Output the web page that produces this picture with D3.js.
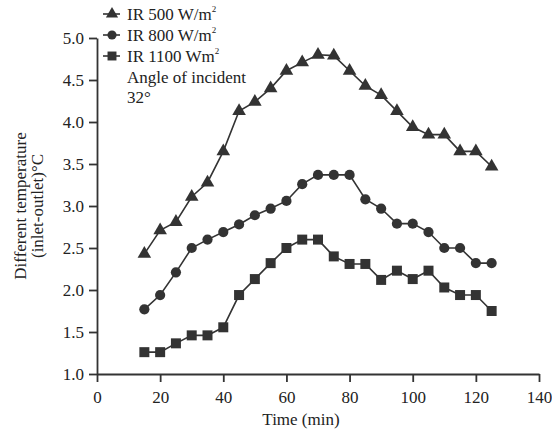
<!DOCTYPE html>
<html>
<head>
<meta charset="utf-8">
<script src="https://cdn.jsdelivr.net/npm/d3@7"></script>
<style>
  body { margin: 0; background: #fff; }
  text { font-family: "Liberation Serif", "DejaVu Serif", serif; fill: #222; }
</style>
</head>
<body>
<div id="chart"></div>
<script>
// time axis (min)
const times = [15, 20, 25, 30, 35, 40, 45, 50, 55, 60, 65, 70, 75, 80, 85, 90, 95, 100, 105, 110, 115, 120, 125];
// IR 500 W/m2 (triangles)
const ir500 = [2.43, 2.71, 2.81, 3.11, 3.28, 3.65, 4.13, 4.24, 4.40, 4.61, 4.71, 4.80, 4.79, 4.61, 4.43, 4.32, 4.13, 3.94, 3.85, 3.85, 3.65, 3.65, 3.47];
// IR 800 W/m2 (circles)
const ir800 = [1.77, 1.94, 2.21, 2.50, 2.60, 2.69, 2.78, 2.89, 2.97, 3.06, 3.26, 3.37, 3.37, 3.37, 3.08, 2.97, 2.79, 2.79, 2.69, 2.50, 2.50, 2.32, 2.32];
// IR 1100 Wm2 (squares)
const ir1100 = [1.26, 1.26, 1.365, 1.46, 1.46, 1.556, 1.94, 2.13, 2.32, 2.50, 2.60, 2.60, 2.40, 2.31, 2.31, 2.12, 2.23, 2.13, 2.23, 2.03, 1.94, 1.94, 1.75];
const xTicks = [0, 20, 40, 60, 80, 100, 120, 140];
const yTicks = [1.0, 1.5, 2.0, 2.5, 3.0, 3.5, 4.0, 4.5, 5.0];

const series = [
  { name: "IR 500 W/m", sup: "2", values: ir500, symbol: d3.symbolTriangle, size: 80 },
  { name: "IR 800 W/m", sup: "2", values: ir800, symbol: d3.symbolCircle, size: 82 },
  { name: "IR 1100 Wm", sup: "2", values: ir1100, symbol: d3.symbolSquare, size: 100 }
];

const W = 552, H = 431;
const margin = { top: 38, right: 13, bottom: 57, left: 97 };
const width = W - margin.left - margin.right,
  height = H - margin.top - margin.bottom;
const ink = "#333";
const fs = "17px";

const svg = d3.select("#chart").append("svg")
  .attr("width", W).attr("height", H);
const g = svg.append("g")
  .attr("transform", `translate(${margin.left},${margin.top})`);

const x = d3.scaleLinear().domain([0, 140]).range([0, width]);
const y = d3.scaleLinear().domain([1, 5]).range([height, 0]);

// axes
const xAxis = g.append("g")
  .attr("transform", `translate(0,${height})`)
  .call(d3.axisBottom(x).tickValues(xTicks).tickSize(8).tickPadding(9).tickSizeOuter(0));
const yAxis = g.append("g")
  .call(d3.axisLeft(y).tickValues(yTicks).tickFormat(d3.format(".1f")).tickSize(8).tickPadding(5).tickSizeOuter(0));

[xAxis, yAxis].forEach((a) => {
  a.selectAll("path, line").attr("stroke", ink).attr("stroke-width", 1.8);
  a.selectAll("text").style("font-size", fs).style("font-family", "Liberation Serif, serif").attr("fill", "#222");
});

// axis titles
svg.append("text")
  .attr("x", 301)
  .attr("y", 425)
  .attr("text-anchor", "middle")
  .style("font-size", fs)
  .text("Time (min)");

const ylab = svg.append("text")
  .attr("transform", "translate(26,206) rotate(-90)")
  .attr("text-anchor", "middle")
  .style("font-size", fs);
ylab.append("tspan").attr("x", 0).attr("dy", 0).text("Different temperature");
ylab.append("tspan").attr("x", 0).attr("dy", 17).text("(inlet-outlet)°C");

// lines and markers
const line = d3.line()
  .x((d, i) => x(times[i]))
  .y((d) => y(d));

series.forEach((s) => {
  g.append("path")
    .datum(s.values)
    .attr("fill", "none")
    .attr("stroke", ink)
    .attr("stroke-width", 1.6)
    .attr("d", line);

  g.append("g")
    .selectAll("path")
    .data(s.values)
    .enter()
    .append("path")
    .attr("transform", (d, i) => `translate(${x(times[i])},${y(d)})`)
    .attr("d", d3.symbol().type(s.symbol).size(s.size))
    .attr("fill", ink);
});

// legend
const legend = svg.append("g").attr("transform", "translate(103,0)");
const legendY = [20, 41, 62];
series.forEach((s, i) => {
  const row = legend.append("g").attr("transform", `translate(0,${legendY[i]})`);
  row.append("line")
    .attr("x1", 0).attr("x2", 17)
    .attr("y1", -6).attr("y2", -6)
    .attr("stroke", ink).attr("stroke-width", 1.6);
  row.append("path")
    .attr("transform", "translate(9,-6)")
    .attr("d", d3.symbol().type(s.symbol).size(s.size * 0.8))
    .attr("fill", ink);
  const t = row.append("text")
    .attr("x", 24).attr("y", 0)
    .style("font-size", fs);
  t.append("tspan").text(s.name);
  t.append("tspan").attr("dy", -8).style("font-size", "9px").text(s.sup);
});
svg.append("text").attr("x", 127).attr("y", 83).style("font-size", fs).text("Angle of incident");
svg.append("text").attr("x", 127).attr("y", 103).style("font-size", fs).text("32°");
</script>
</body>
</html>
